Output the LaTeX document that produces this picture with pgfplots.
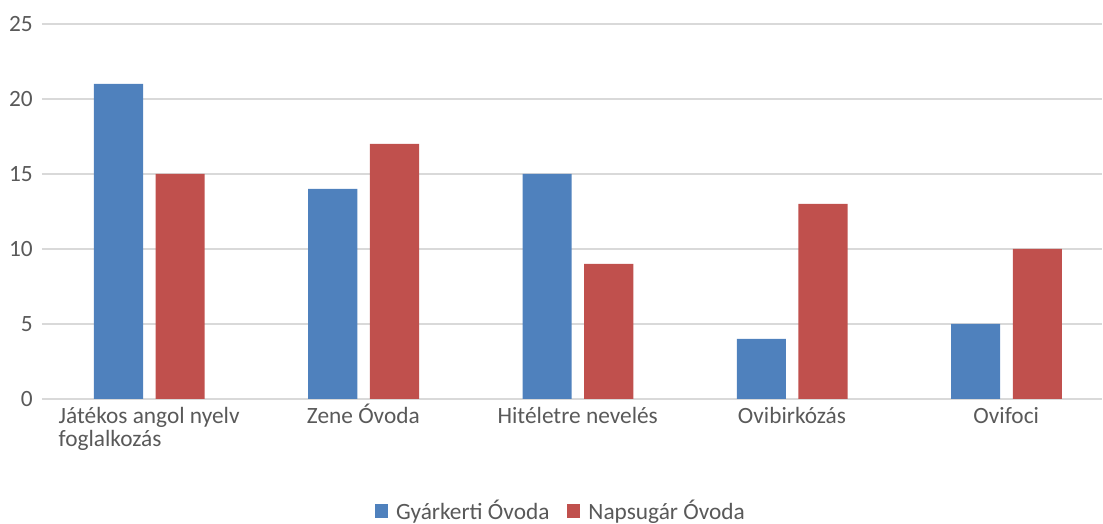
\documentclass[border=0pt]{standalone}
\usepackage{pgfplots}
\pgfplotsset{compat=1.18}
\usepackage{fontspec}
\setmainfont{Carlito}
\definecolor{blueS}{HTML}{4F81BD}
\definecolor{redS}{HTML}{C0504D}
\definecolor{txtc}{HTML}{595959}
\definecolor{gridc}{HTML}{D9D9D9}
\begin{document}
\begin{tikzpicture}[x=1pt,y=1pt]
\useasboundingbox (0,0) rectangle (827.25,393);
\begin{axis}[
  at={(31.5pt,93.75pt)}, anchor=south west,
  scale only axis,
  width=795pt, height=281.25pt,
  xmin=-0.5, xmax=4.447,
  ymin=0, ymax=25,
  ytick={0,5,...,25},
  xtick={0,1,2,3,4},
  xticklabels={{\vtop{\baselineskip=17pt\hbox{Játékos angol nyelv}\hbox{foglalkozás}}},Zene Óvoda,Hitéletre nevelés,Ovibirkózás,Ovifoci},
  xticklabel style={font=\fontsize{17.5}{17}\selectfont, text=txtc, inner sep=0pt, anchor=base, yshift=-18.4pt},
  yticklabel style={font=\fontsize{17.5}{18}\selectfont, text=txtc, inner sep=0pt, anchor=east, xshift=-6.75pt},
  /pgf/number format/assume math mode=true,
  xmajorgrids=false, ymajorgrids=true,
  major grid style={draw=gridc, line width=1.5pt},
  axis line style={draw=none},
  tick style={draw=none},
  major tick length=0pt,
  ybar, bar width=0.229, bar shift=0pt,
  legend columns=2,
  legend style={at={(0.4887,-0.2987)}, anchor=center, draw=none, font=\fontsize{17.5}{18}\selectfont, text=txtc,
    inner sep=0pt, nodes={inner sep=0pt},
    /tikz/every odd column/.append style={column sep=6pt},
    /tikz/every even column/.append style={column sep=13.5pt}},
  legend image code/.code={\fill[#1] (0pt,-4.9pt) rectangle (9.75pt,4.9pt);},
]
\addplot[fill=blueS, draw=none] coordinates {(-0.143,21) (0.857,14) (1.857,15) (2.857,4) (3.857,5)};
\addplot[fill=redS, draw=none] coordinates {(0.145,15) (1.145,17) (2.145,9) (3.145,13) (4.145,10)};
\legend{Gyárkerti Óvoda, Napsugár Óvoda}
\end{axis}
\end{tikzpicture}
\end{document}
